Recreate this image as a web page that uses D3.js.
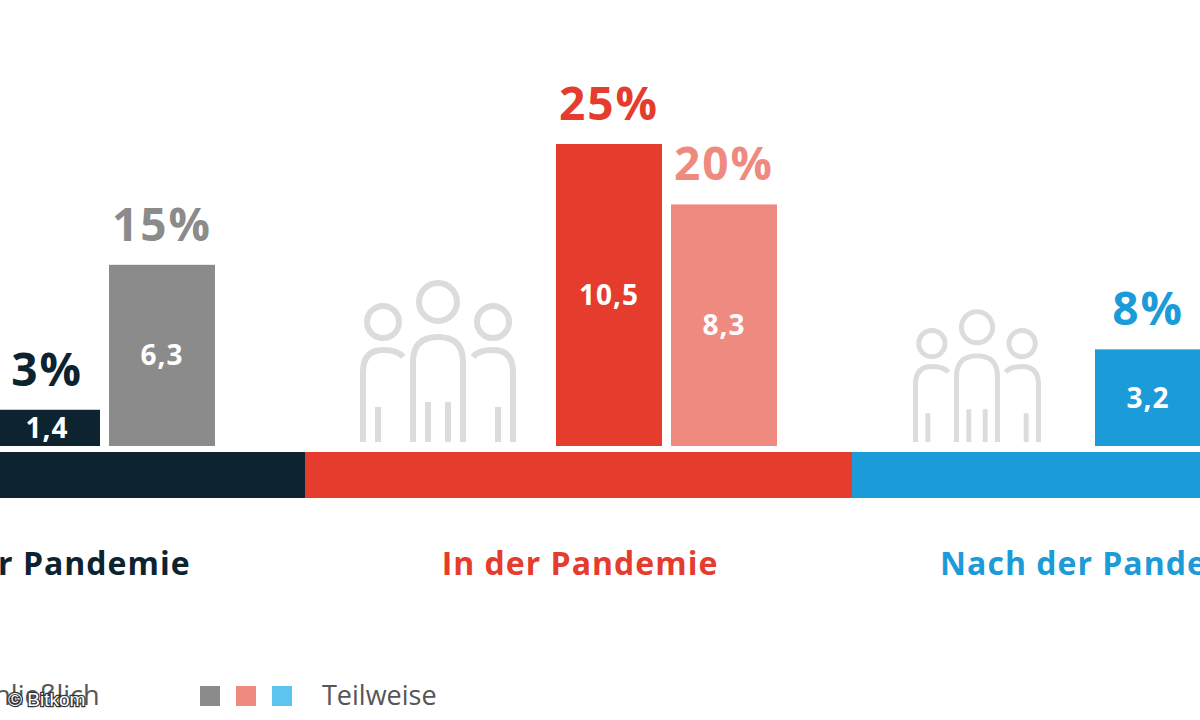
<!DOCTYPE html>
<html><head><meta charset="utf-8">
<script src="https://cdn.jsdelivr.net/npm/d3@7"></script>
<style>body{margin:0;background:#fff;overflow:hidden}</style>
</head><body>
<svg id="chart" width="1200" height="720"></svg>
<script>
const groups = ["Vor der Pandemie", "In der Pandemie", "Nach der Pandemie"];
const seriesNames = ["Ausschließlich", "Teilweise"];
const pct = [[3, 15], [25, 20], [8, 6]];
const millions = [["1,4", "6,3"], ["10,5", "8,3"], ["3,2", "2,6"]];
const mainColors = ["#0d2330", "#e53c2d", "#1b9bd8"];
const lightColors = ["#8b8b8b", "#ef8a80", "#5bc4ef"];

const svg = d3.select("#chart");
const font = "'Open Sans', sans-serif";

const y = d3.scaleLinear().domain([0, 25]).range([446, 144]);
const barX = d3.scaleLinear().domain([0, 1, 2]).range([-6, 556, 1095]); // first bar of each group
const bw = 106, gap = 9;
const labelX = d3.scaleLinear().domain([0, 1, 2]).range([40, 580, 1105]);
const bandEdges = [-100, 305, 852, 1400];

// people icons
function people(cx, base, s) {
  const g = svg.append("g").attr("transform", `translate(${cx},${base}) scale(${s})`)
    .attr("fill", "none").attr("stroke", "#dcdcdc").attr("stroke-width", 6);
  [[-55, -120, 16], [0, -140, 19], [55, -120, 16]].forEach(([x, cy, r]) => {
    g.append("circle").attr("cx", x).attr("cy", cy).attr("r", r);
  });
  g.append("path").attr("d", "M-25,0 V-80 Q-25,-105 0,-105 Q25,-105 25,-80 V0 M-10,0 V-40 M10,0 V-40");
  g.append("path").attr("d", "M-75,0 V-70 Q-75,-92 -55,-92 Q-40,-92 -35,-85 M-60,0 V-35");
  g.append("path").attr("d", "M75,0 V-70 Q75,-92 55,-92 Q40,-92 35,-85 M60,0 V-35");
}
groups.forEach((g, i) => people(barX(i) - 118, 442, i === 1 ? 1 : 0.82));

// bottom band
groups.forEach((g, i) => {
  svg.append("rect").attr("x", bandEdges[i]).attr("y", 452)
    .attr("width", bandEdges[i + 1] - bandEdges[i]).attr("height", 46).attr("fill", mainColors[i]);
  svg.append("text").attr("x", labelX(i)).attr("y", 575).attr("text-anchor", "middle")
    .attr("font-family", font).attr("font-weight", 700).attr("font-size", 32)
    .attr("letter-spacing", 1).attr("fill", mainColors[i]).text(g);
});

// bars
groups.forEach((g, i) => {
  pct[i].forEach((v, j) => {
    const x0 = barX(i) + j * (bw + gap);
    const col = j === 0 ? mainColors[i] : lightColors[i];
    svg.append("rect").attr("x", x0).attr("y", y(v)).attr("width", bw)
      .attr("height", y(0) - y(v)).attr("fill", col);
    svg.append("text").attr("x", x0 + bw / 2).attr("y", y(v) - 24).attr("text-anchor", "middle")
      .attr("font-family", font).attr("font-weight", 700).attr("font-size", 46)
      .attr("letter-spacing", 2).attr("fill", col).text(v + "%");
    svg.append("text").attr("x", x0 + bw / 2).attr("y", (y(v) + y(0)) / 2 + 10)
      .attr("text-anchor", "middle").attr("font-family", font).attr("font-weight", 700)
      .attr("font-size", 28).attr("letter-spacing", 1).attr("fill", "#fff").text(millions[i][j]);
  });
});

// legend
const legX = [-200, 200];
seriesNames.forEach((n, j) => {
  [0, 1, 2].forEach(k => {
    svg.append("rect").attr("x", legX[j] + k * 36).attr("y", 686).attr("width", 20).attr("height", 20)
      .attr("fill", j === 0 ? mainColors[k] : lightColors[k]);
  });
  svg.append("text").attr("x", legX[j] + 122).attr("y", 705).attr("font-family", font)
    .attr("font-size", 27).attr("fill", "#555").text(n);
});

svg.append("text").attr("x", 8).attr("y", 706).attr("font-family", "Arial, sans-serif")
  .attr("font-size", 19).attr("fill", "#fff").attr("stroke", "#333").attr("stroke-width", 2.5)
  .attr("paint-order", "stroke").text("© Bitkom");
</script>
</body></html>
